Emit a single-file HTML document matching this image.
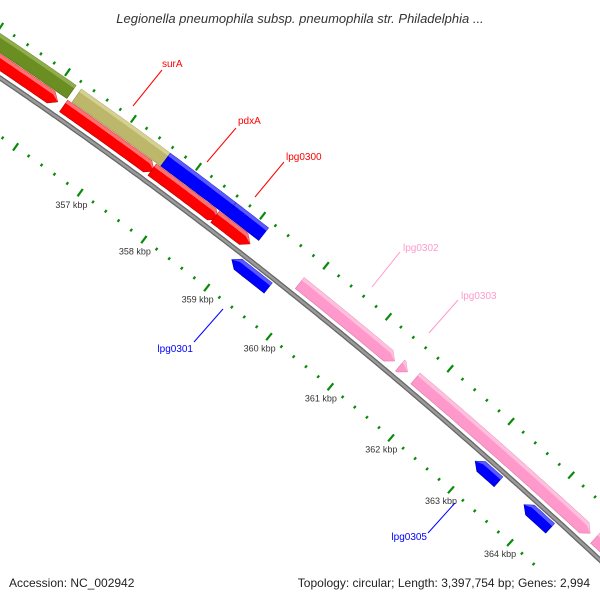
<!DOCTYPE html>
<html><head><meta charset="utf-8"><style>
html,body{margin:0;padding:0;background:#fff;width:600px;height:600px;overflow:hidden}
svg{display:block}
text{font-family:"Liberation Sans","DejaVu Sans",sans-serif}
</style></head><body>
<svg id="map" width="600" height="600" viewBox="0 0 600 600" xmlns="http://www.w3.org/2000/svg" overflow="hidden">
<rect width="600" height="600" fill="#fff"/>
<g id="ticks"></g>
<g id="backbone"></g>
<g id="features"></g>
<g id="labels"></g>
<text x="300" y="23" text-anchor="middle" font-size="13" font-style="italic" fill="#333">Legionella pneumophila subsp. pneumophila str. Philadelphia ...</text>
<rect x="0" y="570" width="600" height="30" fill="#fff"/>
<text x="9" y="587" font-size="12" fill="#222">Accession: NC_002942</text>
<text x="590" y="587" font-size="12" fill="#222" text-anchor="end">Topology: circular; Length: 3,397,754 bp; Genes: 2,994</text>
</svg>
<script>
// feature data (kbp)
const featNames = ["red-1","red-2","red-3","red-4","cog-olive","cog-khaki","cog-blue-1","cog-blue-2","lpg0301","lpg0302","pink-small","lpg0303","pink-next","lpg0305-a","lpg0305-b"];
const featStart = [354.0,356.2,357.56,358.54,354.0,356.26,357.62,358.64,359.03,359.88,361.5,361.75,364.75,362.99,363.81];
const featEnd   = [356.11,357.59,358.59,359.09,356.18,357.62,358.64,359.15,359.61,361.41,361.62,364.66,366.0,363.38,364.25];
const featRing  = ["fwd","fwd","fwd","fwd","cog","cog","cog","cog","rev","fwd","fwd","fwd","fwd","rev","rev"];
const featColor = ["red","red","red","red","olive","khaki","blue","blue","blue","pink","pink","pink","pink","blue","blue"];
const tickMajors = [354,355,356,357,358,359,360,361,362,363,364,365,366];
const tickLabels = ["354 kbp","355 kbp","356 kbp","357 kbp","358 kbp","359 kbp","360 kbp","361 kbp","362 kbp","363 kbp","364 kbp","365 kbp","366 kbp"];

const NS="http://www.w3.org/2000/svg";
const P0=[0,78],C=[300,281],P2=[600,560];
const KBP0=355.35, PXK=80;
function bz(t){const a=(1-t)*(1-t),b=2*t*(1-t),c=t*t;return [a*P0[0]+b*C[0]+c*P2[0],a*P0[1]+b*C[1]+c*P2[1]];}
const samples=[];
(function(){let prev=null,s=0;const N=3000;
 for(let i=0;i<=N;i++){const t=-0.4+1.8*i/N;const p=bz(t);if(prev){s+=Math.hypot(p[0]-prev[0],p[1]-prev[1]);}samples.push({t,p,s});prev=p;}
 let best=samples[0];for(const q of samples){if(Math.abs(q.t)<Math.abs(best.t))best=q;}const zeroS=best.s;
 for(const q of samples)q.s-=zeroS;})();
function at(k,d){const s=(k-KBP0)*PXK;let lo=0,hi=samples.length-1;
 while(hi-lo>1){const m=(lo+hi)>>1;if(samples[m].s<s)lo=m;else hi=m;}
 const a=samples[lo],b=samples[hi];const f=(s-a.s)/((b.s-a.s)||1);
 const x=a.p[0]+(b.p[0]-a.p[0])*f,y=a.p[1]+(b.p[1]-a.p[1])*f;
 const dx=b.p[0]-a.p[0],dy=b.p[1]-a.p[1],L=Math.hypot(dx,dy)||1;
 return [x+d*(-dy/L),y+d*(dx/L)];}
function mk(tag,attrs,parent){const e=document.createElementNS(NS,tag);for(const k in attrs)e.setAttribute(k,attrs[k]);parent.appendChild(e);return e;}

// backbone
const bb=document.getElementById('backbone');
let dpts=[];for(let k=354.5;k<=365.5;k+=0.05){const p=at(k,0);dpts.push(p[0].toFixed(1)+","+p[1].toFixed(1));}
const bbDark=mk('polyline',{points:dpts.join(" "),fill:"none",stroke:"#666","stroke-width":5},bb);


const bbLight=mk('polyline',{points:dpts.join(" "),fill:"none",stroke:"#9a9a9a","stroke-width":2.5},bb);



// ticks
const tg=document.getElementById('ticks');
for(let i=0;i<=60;i++){const k=354.4+i*0.2;const major=(Math.abs(k-Math.round(k))<0.01);
 for(const ring of [-43,48]){const h=major?4.5:1.5;const a=at(k,ring-h),b=at(k,ring+h);
  if(Math.max(a[1],b[1])>572||Math.min(a[0],b[0])<-5||Math.max(a[0],b[0])>605)continue;
  const ln=mk('line',{x1:a[0],y1:a[1],x2:b[0],y2:b[1],stroke:"#0a8a0a","stroke-width":2.2},tg);
  
  }}
tickMajors.forEach((k,i)=>{const p=at(k,63);
 if(p[0]<25||p[0]>580||p[1]>565||p[1]<30)return;
 const t=mk('text',{x:p[0],y:p[1]+3,"font-size":9,fill:"#333","text-anchor":"middle"},tg);
 t.textContent=tickLabels[i];
 
 });

// features
const colors={red:["#ff0000","#ff7070","#b00000"],olive:["#6b8e23","#8fae4a","#4d6a15"],khaki:["#bdb76b","#d6d092","#9a9450"],blue:["#0000ff","#5a5aff","#0000a8"],pink:["#ff99cc","#ffc0de","#d97aa8"]};
const rings={fwd:[-20,-6],cog:[-37,-21],rev:[4,17]};
const fg=document.getElementById('features');
featNames.forEach((nm,i)=>{const a=featStart[i],b=featEnd[i];const r=rings[featRing[i]];const col=colors[featColor[i]];
 const head=0.1;const arrow=featRing[i]!=="cog";const fwd=featRing[i]==="fwd";
 function shape(d1,d2){let s=a,e=b;
  if(arrow){if(fwd)e=Math.max(a,b-head);else s=Math.min(b,a+head);}
  const n=Math.max(2,Math.ceil((e-s)/0.05));
  const outer=[],inner=[];
  for(let j=0;j<=n;j++){const k=s+(e-s)*j/n;outer.push(at(k,d1));inner.push(at(k,d2));}
  if(arrow&&fwd){const tip=at(b,(r[0]+r[1])/2);return outer.concat([tip]).concat(inner.reverse());}
  if(arrow&&!fwd){const tip=at(a,(r[0]+r[1])/2);return [tip].concat(outer).concat(inner.reverse());}
  return outer.concat(inner.reverse());}
 const g=mk('g',{},fg);
 
 
 const base=mk('polygon',{points:shape(r[0],r[1]).map(p=>p[0].toFixed(1)+","+p[1].toFixed(1)).join(" "),fill:col[0],stroke:col[2],"stroke-width":0.6},g);
 
 
 const hl=mk('polygon',{points:shape(r[0],r[0]+3.5).map(p=>p[0].toFixed(1)+","+p[1].toFixed(1)).join(" "),fill:col[1]},g);
 
 });

// gene labels
const lg=document.getElementById('labels');
const labs=[["surA",162,63,133,106,162,70,"#ff0000","start"],["pdxA",238,120,207,162,236,128,"#ff0000","start"],["lpg0300",286,156,255,197,284,162,"#ff0000","start"],
["lpg0302",403,247,372,287,400,252,"#ff99cc","start"],["lpg0303",461,295,429,333,458,300,"#ff99cc","start"],
["lpg0301",193,348,194,342,223,309,"#0000ff","end"],["lpg0305",427,536,428,533,455,503,"#0000ff","end"]];
labs.forEach(l=>{const ln=mk('line',{x1:l[3],y1:l[4],x2:l[5],y2:l[6],stroke:l[7],"stroke-width":1},lg);
 
 
 const t=mk('text',{x:l[1],y:l[2]+4,"font-size":10,fill:l[7],"text-anchor":l[8]},lg);t.textContent=l[0];
 
 });
</script>
</body></html>
